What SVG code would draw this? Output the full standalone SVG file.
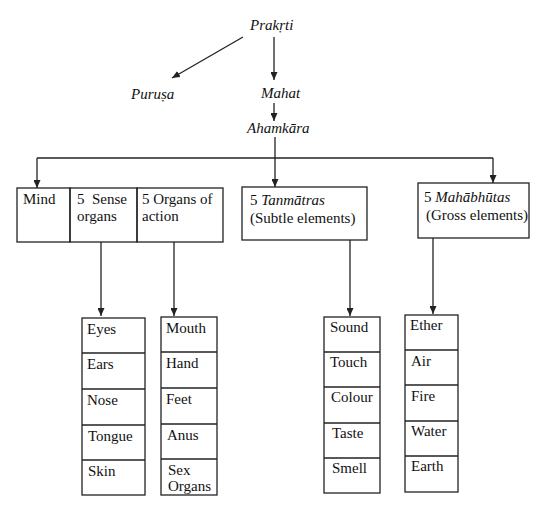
<svg xmlns="http://www.w3.org/2000/svg" width="550" height="508" viewBox="0 0 550 508">
<defs>
<marker id="ah" viewBox="0 0 8 7" refX="8" refY="3.5" markerWidth="8" markerHeight="7" markerUnits="userSpaceOnUse" orient="auto">
<path d="M0,0 L8,3.5 L0,7 z" fill="#222"/>
</marker>
<style>
text{font-size:15px;fill:#111}
.it{font-style:italic}
.box{fill:none;stroke:#222;stroke-width:1.3}
.c{fill:none;stroke:#222;stroke-width:1.3}
.a{marker-end:url(#ah)}
</style>
</defs>
<rect width="550" height="508" fill="#fff"/>
<g id="connectors">
<line class="c a" x1="243" y1="37" x2="172" y2="78"/>
<line class="c a" x1="274" y1="37" x2="274" y2="80"/>
<line class="c a" x1="274" y1="103" x2="274" y2="121"/>
<line class="c" x1="275" y1="137" x2="275" y2="158"/>
<line class="c" x1="37" y1="158" x2="493" y2="158"/>
<line class="c a" x1="37" y1="158" x2="37" y2="188"/>
<line class="c a" x1="275" y1="158" x2="275" y2="187"/>
<line class="c a" x1="493" y1="158" x2="493" y2="183"/>
<line class="c a" x1="101" y1="242" x2="101" y2="316"/>
<line class="c a" x1="174" y1="242" x2="174" y2="316"/>
<line class="c a" x1="350" y1="240" x2="350" y2="316"/>
<line class="c a" x1="433" y1="238" x2="433" y2="314"/>
</g>
<g font-family="'Liberation Serif', 'DejaVu Serif', serif">
<g id="prakrti"><text class="it" x="250" y="30">Prakṛti</text></g>
<g id="purusa"><text class="it" x="131" y="99">Puruṣa</text></g>
<g id="mahat"><text class="it" x="261" y="98">Mahat</text></g>
<g id="ahamkara"><text class="it" x="247" y="133">Ahamkāra</text></g>
<g id="mind">
<rect class="box" x="17" y="188" width="53" height="54"/>
<text x="23" y="204">Mind</text>
</g>
<g id="sense-organs">
<rect class="box" x="70" y="188" width="67" height="54"/>
<text x="77" y="204" xml:space="preserve">5  Sense</text>
<text x="77" y="221">organs</text>
</g>
<g id="organs-of-action">
<rect class="box" x="137" y="188" width="86" height="54"/>
<text x="142" y="204">5 Organs of</text>
<text x="142" y="221">action</text>
</g>
<g id="tanmatras">
<rect class="box" x="242" y="187" width="125" height="53"/>
<text x="250" y="205">5 <tspan class="it">Tanmātras</tspan></text>
<text x="250" y="223">(Subtle elements)</text>
</g>
<g id="mahabhutas">
<rect class="box" x="418" y="183" width="111" height="55"/>
<text x="424" y="202">5 <tspan class="it">Mahābhūtas</tspan></text>
<text x="426" y="220">(Gross elements)</text>
</g>
<g id="sense-list">
<rect class="box" x="82" y="318" width="63" height="177"/>
<line class="c" x1="82" y1="353" x2="145" y2="353"/>
<line class="c" x1="82" y1="389" x2="145" y2="389"/>
<line class="c" x1="82" y1="425" x2="145" y2="425"/>
<line class="c" x1="82" y1="460" x2="145" y2="460"/>
<text x="87" y="334">Eyes</text>
<text x="87" y="369">Ears</text>
<text x="87" y="405">Nose</text>
<text x="88" y="441">Tongue</text>
<text x="88" y="476">Skin</text>
</g>
<g id="action-list">
<rect class="box" x="161" y="317" width="56" height="178"/>
<line class="c" x1="161" y1="352" x2="217" y2="352"/>
<line class="c" x1="161" y1="388" x2="217" y2="388"/>
<line class="c" x1="161" y1="424" x2="217" y2="424"/>
<line class="c" x1="161" y1="459" x2="217" y2="459"/>
<text x="166" y="333">Mouth</text>
<text x="166" y="368">Hand</text>
<text x="166" y="404">Feet</text>
<text x="167" y="440">Anus</text>
<text x="168" y="475">Sex</text>
<text x="168" y="491">Organs</text>
</g>
<g id="tanmatra-list">
<rect class="box" x="324" y="317" width="56" height="176"/>
<line class="c" x1="324" y1="352" x2="380" y2="352"/>
<line class="c" x1="324" y1="387" x2="380" y2="387"/>
<line class="c" x1="324" y1="423" x2="380" y2="423"/>
<line class="c" x1="324" y1="458" x2="380" y2="458"/>
<text x="330" y="332">Sound</text>
<text x="330" y="367">Touch</text>
<text x="331" y="402">Colour</text>
<text x="332" y="438">Taste</text>
<text x="332" y="473">Smell</text>
</g>
<g id="mahabhuta-list">
<rect class="box" x="405" y="315" width="53" height="177"/>
<line class="c" x1="405" y1="350" x2="458" y2="350"/>
<line class="c" x1="405" y1="385" x2="458" y2="385"/>
<line class="c" x1="405" y1="421" x2="458" y2="421"/>
<line class="c" x1="405" y1="456" x2="458" y2="456"/>
<text x="410" y="330">Ether</text>
<text x="411" y="366">Air</text>
<text x="411" y="401">Fire</text>
<text x="411" y="436">Water</text>
<text x="411" y="471">Earth</text>
</g>
</g>
</svg>
